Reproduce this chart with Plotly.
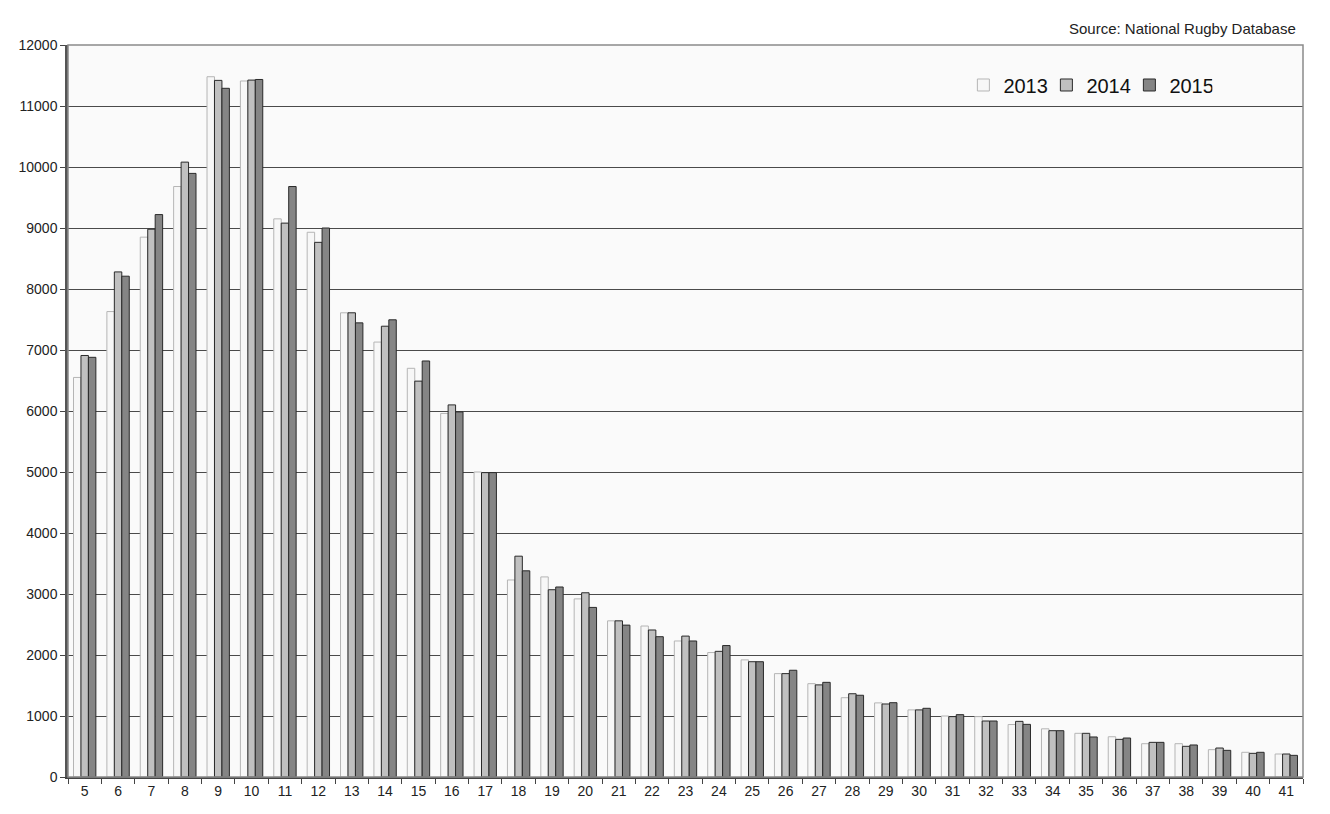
import plotly.graph_objects as go

ages = [str(a) for a in range(5, 42)]
v2013 = [6550, 7630, 8850, 9680, 11480, 11410, 9150, 8930, 7610, 7130, 6700, 5960, 5000,
         3230, 3280, 2920, 2560, 2475, 2230, 2040, 1920, 1695, 1530, 1300, 1215, 1100, 1000,
         990, 860, 790, 716, 660, 546, 546, 448, 405, 377]
v2014 = [6910, 8280, 8980, 10080, 11420, 11425, 9080, 8765, 7610, 7390, 6490, 6100, 4990,
         3620, 3070, 3020, 2560, 2410, 2310, 2060, 1890, 1695, 1510, 1365, 1197, 1100, 990,
         918, 912, 759, 716, 617, 568, 503, 475, 388, 377]
v2015 = [6880, 8210, 9220, 9895, 11290, 11435, 9680, 9000, 7445, 7495, 6820, 5985, 4990,
         3380, 3115, 2780, 2490, 2300, 2230, 2155, 1890, 1750, 1552, 1340, 1218, 1126, 1022,
         918, 863, 759, 656, 639, 568, 525, 437, 405, 355]
series_names = ["2013", "2014", "2015"]
y_ticks = list(range(0, 12001, 1000))
y_tick_labels = [str(v) for v in y_ticks]

fills = ["#f7f7f7", "#c0c0c0", "#858585"]
outlines = ["#b5b5b5", "#2a2a2a", "#2a2a2a"]

fig = go.Figure()
for name, vals, fc, oc in zip(series_names, [v2013, v2014, v2015], fills, outlines):
    fig.add_trace(go.Bar(x=ages, y=vals, name=name,
                         marker=dict(color=fc, line=dict(color=oc, width=1))))

fig.update_layout(
    width=1322, height=806,
    margin=dict(l=60, r=27, t=37, b=37),
    paper_bgcolor="white",
    plot_bgcolor="#fafafa",
    barmode="group",
    bargap=0.33,
    bargroupgap=0,
    font=dict(family="Liberation Sans, Arial, sans-serif", color="#222", size=14),
    legend=dict(orientation="h", x=0.725, y=0.972, xanchor="left", yanchor="top",
                font=dict(size=20, color="#111"), bgcolor="rgba(0,0,0,0)",
                itemwidth=30, traceorder="normal", entrywidth=38, entrywidthmode="pixels"),
    annotations=[dict(text="Source: National Rugby Database", xref="paper", yref="paper",
                      x=0.996, y=1.0, yshift=6, xanchor="right", yanchor="bottom",
                      showarrow=False, font=dict(size=15, color="#222"))],
    shapes=[dict(type="rect", xref="paper", yref="paper", x0=0, y0=0, x1=1, y1=1,
                 line=dict(color="#8a8a8a", width=1.5), layer="above")],
)
fig.update_xaxes(type="category", tickson="boundaries", ticks="outside", ticklen=5,
                 tickcolor="#444", showline=True, linecolor="#444", linewidth=1.5,
                 showgrid=False, tickfont=dict(size=14))
fig.update_yaxes(range=[0, 12000], tickvals=y_ticks, ticktext=y_tick_labels,
                 ticks="outside", ticklen=5,
                 tickcolor="#444", showline=True, linecolor="#555", linewidth=2.5,
                 showgrid=True, gridcolor="#4a4a4a", gridwidth=1.3, zeroline=False,
                 tickfont=dict(size=14))

fig.write_html("out.html")
